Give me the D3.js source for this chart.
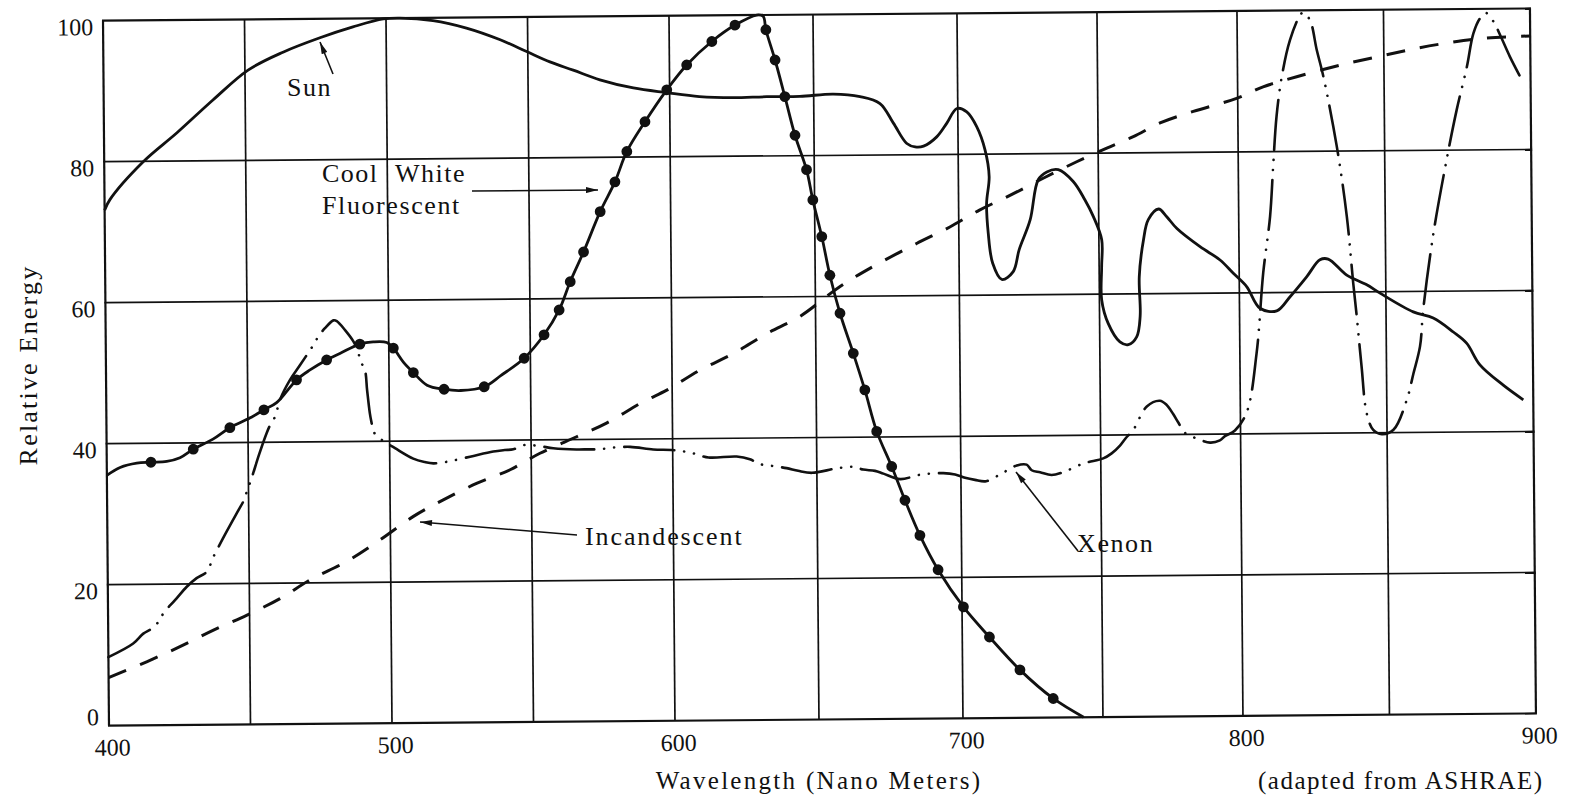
<!DOCTYPE html>
<html><head><meta charset="utf-8">
<script src="https://cdn.jsdelivr.net/npm/d3@7"></script>
<style>
html,body{margin:0;padding:0;background:#fff;}
svg{display:block;font-family:"Liberation Serif","Times New Roman",serif;}
</style></head><body>
<svg id="chart" width="1569" height="798"></svg>
<script>
// ---------- data ----------
const xTicks = [400, 500, 600, 700, 800, 900];
const xGrid = [400, 450, 500, 550, 600, 650, 700, 750, 800, 850, 900];
const yTicks = [0, 20, 40, 60, 80, 100];

const sun = [[400,73.1],[401.9,74.6],[413.7,79.9],[425.8,84.0],[438.6,88.6],[451.1,92.8],[463.5,95.3],[476.6,97.3],[488.3,98.8],[499,99.9],[504.9,100],[516.6,99.6],[528.4,98.5],[540.3,96.8],[549.6,95.1],[557.8,93.6],[566,92.4],[575.4,91.0],[587.2,89.8],[598.9,89.1],[610.3,88.5],[622,88.3],[633.7,88.4],[645.2,88.4],[656.8,88.7],[666.1,88.3],[673,87.3],[677.6,84.5],[682.2,81.6],[685.1,81.1],[688,81.2],[692.6,82.5],[696.1,84.4],[699.7,86.5],[703.2,86.0],[706.7,83.9],[709.6,80.6],[711,76.8],[710,73.0],[710.5,68.8],[712,64.5],[715.2,62.2],[719.3,63.3],[721.5,66.4],[725.5,70.6],[728.5,76.3],[731.6,77.4],[735.7,77.7],[741,76.0],[745.1,73.4],[748.1,71.0],[751,67.7],[750.9,63.9],[750.8,59.2],[753.1,55.8],[757.2,53.2],[760.2,52.8],[763.2,53.9],[764.5,56.8],[764.3,62.4],[765.9,67.6],[767.7,70.5],[771.4,72.0],[774.3,70.9],[777.9,69.2],[786.1,66.6],[793.2,64.7],[797.9,62.8],[802.5,60.9],[807,57.8],[812.7,57.4],[817.3,59.4],[823,62.2],[827.6,64.6],[830.4,64.7],[836.7,62.4],[843.5,61.0],[848,59.8],[859.3,57.1],[866.1,56.2],[872.9,54.2],[877.4,52.6],[881.9,49.5],[889.8,46.6],[896.6,44.5]];

const coolWhite = [[400,35.5],[404.7,36.6],[410.6,37.2],[415.6,37.3],[421.2,37.4],[425.9,37.9],[430.6,39.1],[437.6,40.5],[443.6,42.1],[451.4,43.6],[455.7,44.6],[460.2,45.6],[467.3,48.8],[472.1,50.2],[478,51.6],[482.7,52.5],[489.8,53.8],[494.5,54.1],[499.3,54.0],[501.6,53.2],[505.1,51.2],[508.6,49.7],[513.4,47.9],[519.4,47.3],[525.3,47.1],[533.6,47.6],[539.6,49.2],[547.8,51.6],[554.9,54.9],[560.3,58.4],[564.3,62.4],[569.1,66.6],[575.1,72.3],[580.4,76.5],[584.7,80.8],[591.2,85.0],[599,89.5],[606,93.0],[614.8,96.3],[622.9,98.6],[630.5,100],[632.7,99.8],[633.6,97.9],[636.7,93.6],[640,88.4],[643.4,82.9],[647.3,78.0],[649.4,73.7],[652.4,68.5],[655.1,63.0],[658.5,57.6],[663,51.9],[666.9,46.7],[670.9,40.8],[676,35.8],[680.5,31.0],[685.6,26.0],[691.8,21.1],[700.5,15.8],[709.7,11.5],[720.5,6.8],[732.3,2.7],[743.1,0]];

const coolWhiteDots = [[415.6,37.3],[430.6,39.1],[443.6,42.1],[455.7,44.6],[467.3,48.8],[478,51.6],[489.8,53.8],[501.6,53.2],[508.6,49.7],[519.4,47.3],[533.6,47.6],[547.8,51.6],[554.9,54.9],[560.3,58.4],[564.3,62.4],[569.1,66.6],[575.1,72.3],[580.4,76.5],[584.7,80.8],[591.2,85.0],[599,89.5],[606,93.0],[614.8,96.3],[622.9,98.6],[633.6,97.9],[636.7,93.6],[640,88.4],[643.4,82.9],[647.3,78.0],[649.4,73.7],[652.4,68.5],[655.1,63.0],[658.5,57.6],[663,51.9],[666.9,46.7],[670.9,40.8],[676,35.8],[680.5,31.0],[685.6,26.0],[691.8,21.1],[700.5,15.8],[709.7,11.5],[720.5,6.8],[732.3,2.7]];

const incandescent = [[400,6.8],[413.5,9.0],[425.3,11.1],[437.2,13.4],[449.1,15.5],[460.8,17.8],[471.4,20.4],[484.5,23.0],[496.3,26.0],[508.2,29.3],[518.8,31.6],[530.6,33.9],[542.5,35.8],[553.1,38.1],[566.1,40.4],[576.7,42.3],[589.8,45.3],[598.1,46.9],[609.7,49.7],[621.3,52.0],[633,54.8],[644.6,57.2],[658.6,61.4],[670.2,64.2],[685.3,67.4],[696.9,69.7],[707.6,72.1],[717.3,73.9],[730.3,76.5],[742.3,78.8],[753.1,80.7],[762.6,82.3],[772.2,84.2],[784.1,85.8],[799.6,87.6],[808.7,89.2],[820.2,90.6],[835.2,92.2],[848.7,93.4],[860.2,94.4],[871.6,95.2],[883.1,95.8],[900,96.1]];

const xenon = [[400,9.7],[408.8,11.6],[412.4,13.0],[415.4,13.7],[418.3,14.9],[419.6,15.9],[423.7,17.7],[427.9,19.6],[431.4,20.8],[435,21.7],[437.4,23.8],[441.5,26.9],[446.4,30.4],[448.1,31.6],[449.4,33.0],[451.2,35.0],[453.8,38.2],[456.6,41.3],[457.8,42.4],[459.6,43.6],[461.4,46.0],[465,48.8],[468.6,50.9],[473.3,53.7],[475.1,54.9],[477.5,56.1],[480.5,57.2],[481.7,57.1],[484.6,55.8],[487.5,54.2],[489.2,52.7],[489.8,51.5],[491.5,50.1],[492.2,47.3],[493.1,44.0],[493.7,42.6],[494.3,41.4],[497.2,40.2],[501.9,39.0],[508.3,37.5],[512.4,37.0],[515.4,36.8],[520.1,37.0],[528.4,37.7],[536.6,38.4],[540.7,38.6],[543.7,38.7],[547.8,39.3],[553.1,39.1],[557.8,38.8],[566,38.6],[570.2,38.6],[574.3,38.6],[578.4,38.8],[585,38.9],[593.1,38.5],[599.6,38.4],[603.7,38.2],[607.2,37.9],[612.4,37.3],[622.2,37.4],[626.8,37.0],[630.3,36.3],[634.9,36.0],[639.5,35.7],[643.5,35.3],[648.3,35.0],[656.9,35.6],[662.7,35.8],[666.1,35.4],[670.2,35.2],[673.1,34.8],[678.9,34.0],[685.8,34.6],[693.9,34.8],[698,34.6],[701.5,34.1],[705,33.8],[709,33.6],[715.1,34.8],[720,35.8],[723.5,35.9],[725.3,35.1],[728.3,34.8],[732.4,34.4],[736.6,34.8],[743.8,36.0],[750.9,36.7],[753.9,37.4],[756.9,38.5],[759.1,39.6],[761.7,40.7],[766.6,44.0],[771.3,44.8],[773.7,44.2],[776,42.9],[777.8,41.7],[780.2,40.2],[784.4,39.4],[789.1,38.8],[792.6,39.1],[794.4,39.7],[798,40.5],[802.2,43.1],[805.7,51.4],[808.2,62.8],[810.7,70.8],[811.9,77.9],[813.2,85.0],[815.1,90.6],[818,95.8],[821.5,99.3],[822.6,99.7],[824.9,98.6],[827.1,94.4],[829.3,90.6],[833.7,80.6],[836.9,70.7],[838.9,61.2],[840,56.5],[841.5,49.4],[843.1,42.8],[845.3,40.4],[848.2,39.8],[852.2,40.4],[856.8,44.6],[859.2,48.4],[861.5,52.2],[862.7,57.4],[866.4,68.2],[871.1,78.6],[874.7,85.7],[878.3,91.8],[880.6,96.5],[883,98.7],[885,99.4],[887.5,98.2],[889.7,96.3],[893,93.2],[897,89.9]];

// ---------- drawing ----------
const INK = "#111";
const FONT = "'Liberation Serif','Times New Roman',serif";
const svg = d3.select("#chart");

const defs = svg.append("defs");
defs.append("marker").attr("id","arrow")
  .attr("viewBox","0 0 12 6").attr("refX",12).attr("refY",3)
  .attr("markerWidth",13).attr("markerHeight",6).attr("markerUnits","userSpaceOnUse")
  .attr("orient","auto")
  .append("path").attr("d","M0,0 L12,3 L0,6 Z").attr("fill",INK);

const x = d3.scaleLinear().domain(xTicks).range([106, 389, 672, 960, 1240, 1533]);
const y = d3.scaleLinear().domain([0, 100]).range([719.5, 14.5]);

// the scanned page is slightly turned
const plot = svg.append("g").attr("transform","rotate(-0.487,820,370)");

// grid
plot.append("g").selectAll("line").data(xGrid).join("line")
  .attr("x1",d=>x(d)).attr("x2",d=>x(d)).attr("y1",y(0)).attr("y2",y(100))
  .attr("stroke",INK).attr("stroke-width",d=>(d===400||d===900)?2.2:1.7);
plot.append("g").selectAll("line").data(yTicks).join("line")
  .attr("x1",x(400)-1).attr("x2",x(900)+1).attr("y1",d=>y(d)).attr("y2",d=>y(d))
  .attr("stroke",INK).attr("stroke-width",d=>(d===0||d===100)?2.2:1.7);

// axes
const xa = plot.append("g").attr("transform",`translate(0,${y(0)})`)
  .call(d3.axisBottom(x).tickValues(xTicks).tickSize(0).tickPadding(13).tickFormat(d3.format("d")));
xa.select(".domain").remove();
xa.attr("font-family",FONT).attr("font-size",24);
xa.selectAll("text").attr("fill",INK).attr("dx",3);

const ya = plot.append("g").attr("transform",`translate(${x(400)},0)`)
  .call(d3.axisLeft(y).tickValues(yTicks).tickSize(0).tickPadding(10).tickFormat(d3.format("d")));
ya.select(".domain").remove();
ya.attr("font-family",FONT).attr("font-size",24);
ya.selectAll("text").attr("fill",INK).attr("dy",d=>d===0?-1:14);

// curves
const line = d3.line().x(d=>x(d[0])).y(d=>y(d[1])).curve(d3.curveCatmullRom.alpha(0.5));

plot.append("path").datum(incandescent).attr("d",line)
  .attr("fill","none").attr("stroke",INK).attr("stroke-width",3)
  .attr("stroke-dasharray","19,15");

plot.append("path").datum(xenon).attr("d",line)
  .attr("fill","none").attr("stroke",INK).attr("stroke-width",2.6)
  .attr("stroke-linecap","round")
  .attr("stroke-dasharray","50,10,0.1,10,0.1,10");

plot.append("path").datum(sun).attr("d",line)
  .attr("fill","none").attr("stroke",INK).attr("stroke-width",2.8)
  .attr("stroke-linejoin","round");

plot.append("path").datum(coolWhite).attr("d",line)
  .attr("fill","none").attr("stroke",INK).attr("stroke-width",2.8)
  .attr("stroke-linejoin","round");

plot.append("g").selectAll("circle").data(coolWhiteDots).join("circle")
  .attr("cx",d=>x(d[0])).attr("cy",d=>y(d[1])).attr("r",5.4).attr("fill",INK);

// annotations and titles
const ann = svg.append("g").attr("font-family",FONT).attr("fill",INK);
function label(t, px, py, size, ls, anchor){
  return ann.append("text").attr("x",px).attr("y",py).attr("font-size",size)
    .attr("letter-spacing",ls).attr("text-anchor",anchor||"start").text(t);
}
function arrow(x1,y1,x2,y2){
  ann.append("line").attr("x1",x1).attr("y1",y1).attr("x2",x2).attr("y2",y2)
    .attr("stroke",INK).attr("stroke-width",1.6).attr("marker-end","url(#arrow)");
}
label("Sun", 287, 96, 26, 1.5);
arrow(333, 74, 320, 42);
label("Cool", 322, 182, 26, 1.5);
label("White", 395, 182, 26, 1.5);
label("Fluorescent", 322, 214, 26, 1.6);
arrow(472, 191, 598, 190);
label("Incandescent", 585, 545, 26, 1.9);
arrow(577, 535, 420, 522);
label("Xenon", 1077, 552, 26, 1.6);
arrow(1078, 551, 1016, 472);

ann.append("text").attr("transform","translate(37,365) rotate(-90)")
  .attr("text-anchor","middle").attr("font-size",26).attr("letter-spacing",2.2)
  .text("Relative Energy");
label("Wavelength (Nano Meters)", 819, 789, 25, 2.3, "middle");
label("(adapted from ASHRAE)", 1258, 789, 25, 1.5);
</script>
</body></html>
